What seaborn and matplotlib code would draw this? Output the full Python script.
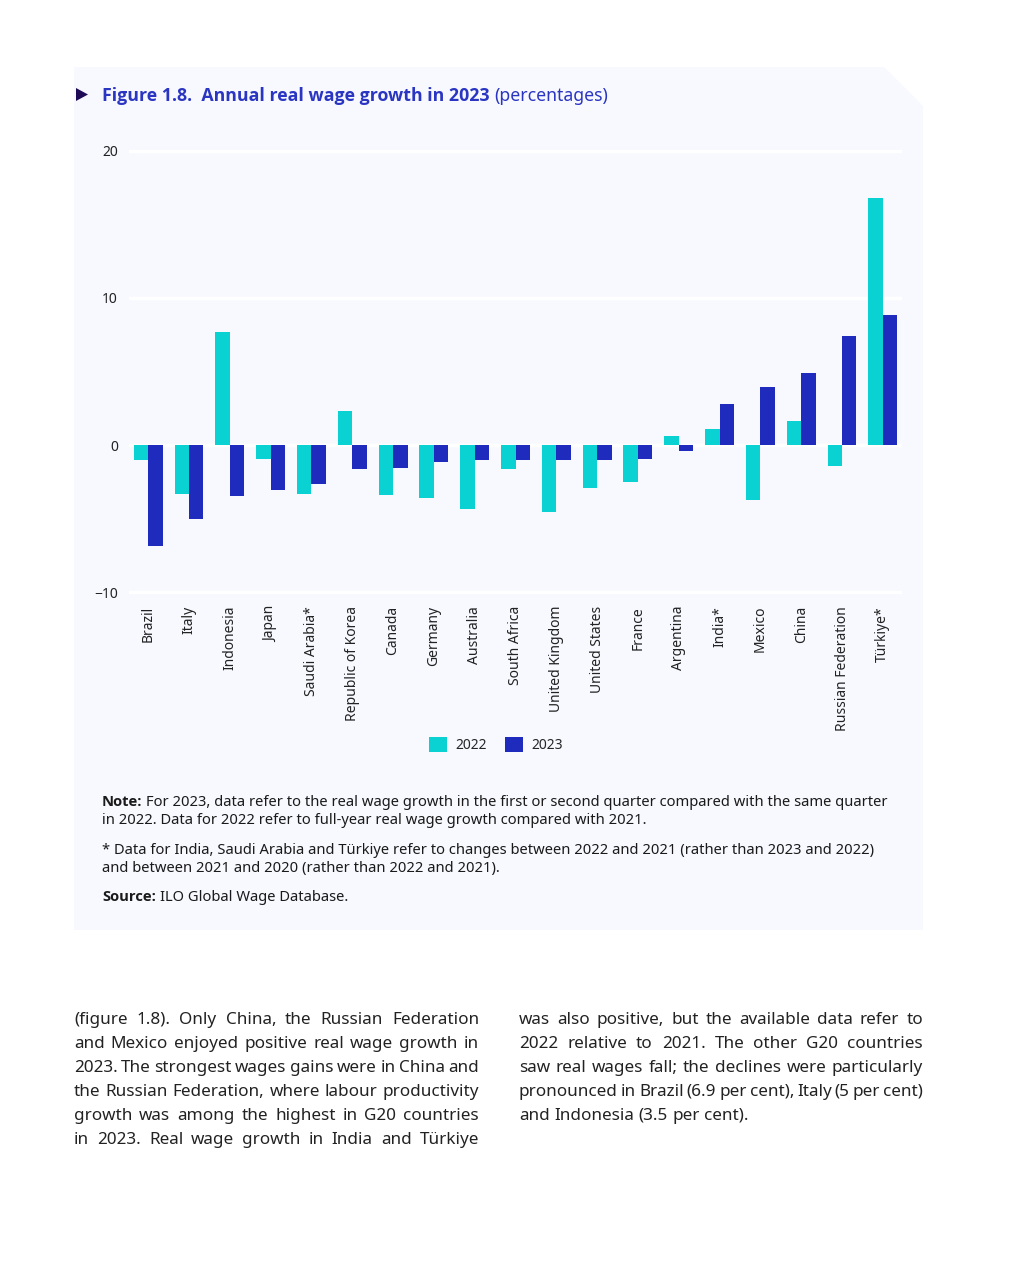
import matplotlib
matplotlib.use("Agg")
import matplotlib.pyplot as plt
from matplotlib.patches import Polygon, Patch
from matplotlib import font_manager as fm
import seaborn as sns
import pandas as pd

countries = ["Brazil", "Italy", "Indonesia", "Japan", "Saudi Arabia*", "Republic of Korea",
             "Canada", "Germany", "Australia", "South Africa", "United Kingdom",
             "United States", "France", "Argentina", "India*", "Mexico", "China",
             "Russian Federation", "Türkiye*"]
growth_2022 = [-1.0, -3.3, 7.7, -0.95, -3.3, 2.3, -3.4, -3.6, -4.35, -1.6, -4.55,
               -2.9, -2.5, 0.6, 1.1, -3.75, 1.65, -1.4, 16.8]
growth_2023 = [-6.9, -5.0, -3.5, -3.05, -2.65, -1.6, -1.55, -1.15, -1.0, -1.0, -1.0,
               -1.0, -0.95, -0.4, 2.8, 3.95, 4.9, 7.4, 8.85]
years = ["2022", "2023"]
yticks = [-10, 0, 10, 20]
colors = ["#0ad2d2", "#1e2bbd"]

title_bold = "Figure 1.8.  Annual real wage growth in 2023"
title_rest = "(percentages)"
note_lines = [
    [("Note:", "bold"), ("For 2023, data refer to the real wage growth in the first or second quarter compared with the same quarter", "normal")],
    [("in 2022. Data for 2022 refer to full-year real wage growth compared with 2021.", "normal")],
    [("* Data for India, Saudi Arabia and Türkiye refer to changes between 2022 and 2021 (rather than 2023 and 2022)", "normal")],
    [("and between 2021 and 2020 (rather than 2022 and 2021).", "normal")],
    [("Source:", "bold"), ("ILO Global Wage Database.", "normal")],
]
left_col = [
    "(figure 1.8). Only China, the Russian Federation",
    "and Mexico enjoyed positive real wage growth in",
    "2023. The strongest wages gains were in China and",
    "the Russian Federation, where labour productivity",
    "growth was among the highest in G20 countries",
    "in 2023. Real wage growth in India and Türkiye",
]
right_col = [
    "was also positive, but the available data refer to",
    "2022 relative to 2021. The other G20 countries",
    "saw real wages fall; the declines were particularly",
    "pronounced in Brazil (6.9 per cent), Italy (5 per cent)",
    "and Indonesia (3.5 per cent).",
]

n = min(len(countries), len(growth_2022), len(growth_2023))
df = pd.DataFrame({
    "country": countries[:n] * 2,
    "value": growth_2022[:n] + growth_2023[:n],
    "year": [years[0]] * n + [years[1]] * n,
})

sns.set_theme(style="white")

def has_bold(fam):
    try:
        p = fm.findfont(fm.FontProperties(family=fam, weight="bold"), fallback_to_default=False)
        f = fm.get_font(p)
        return fam.lower().replace(" ", "") in p.lower().replace(" ", "").replace("-", "").replace("_", "") and \
            ("bold" in p.lower() or "bold" in (f.style_name or "").lower())
    except Exception:
        return False

main_family = "Noto Sans"
bold_family = next((f for f in ["Noto Sans", "Open Sans", "Lato", "Roboto", "DejaVu Sans"] if has_bold(f)), "DejaVu Sans")
plt.rcParams["font.family"] = [main_family, "DejaVu Sans"]

W, H = 1018, 1277
fig = plt.figure(figsize=(W / 100, H / 100), dpi=100)
fig.patch.set_facecolor("white")

def fx(x):
    return x / W

def fy(y):
    return 1 - y / H

panel_bg = "#f7f9fe"
panel = Polygon([(fx(74), fy(67)), (fx(884), fy(67)), (fx(923), fy(106)),
                 (fx(923), fy(930)), (fx(74), fy(930))],
                closed=True, transform=fig.transFigure, facecolor=panel_bg,
                edgecolor="none", zorder=-5)
fig.patches.append(panel)
tri = Polygon([(fx(76), fy(88)), (fx(88), fy(94.5)), (fx(76), fy(101))], closed=True,
              transform=fig.transFigure, facecolor="#1f0a55", edgecolor="none", zorder=-4)
fig.patches.append(tri)

ax_l, ax_r = 129, 902
ax_top, ax_bot = 149.5, 593.5
ax = fig.add_axes([fx(ax_l), fy(ax_bot), (ax_r - ax_l) / W, (ax_bot - ax_top) / H])
ax.set_facecolor("none")
ax.set_zorder(2)

sns.barplot(data=df, x="country", y="value", hue="year", palette=colors, width=0.71,
            saturation=1, ax=ax, zorder=3, errorbar=None, linewidth=0, edgecolor="none")
ax.set_ylim(-10.1, 20.1)
ax.set_xlim(-0.47, n - 1 + 0.47)
ax.set_yticks(yticks)
ax.set_yticklabels(["\u221210" if v < 0 else str(v) for v in yticks])
for v in yticks:
    ax.axhline(v, color="white", lw=2.5, zorder=1)
ax.grid(False)
for s in ax.spines.values():
    s.set_visible(False)
ax.set_xlabel("")
ax.set_ylabel("")
ax.tick_params(axis="y", length=0, pad=8, labelsize=10, labelcolor="#222222")
ax.tick_params(axis="x", length=0, pad=9, labelsize=10, labelcolor="#222222")
plt.setp(ax.get_xticklabels(), rotation=90, ha="center", va="top")

if ax.legend_ is not None:
    ax.legend_.remove()
handles = [Patch(facecolor=c, edgecolor="none", label=y) for c, y in zip(colors, years)]
ax.legend(handles=handles, loc="center",
          bbox_to_anchor=((496 - ax_l) / (ax_r - ax_l), (ax_bot - 745) / (ax_bot - ax_top)),
          ncol=2, frameon=False, fontsize=10, handlelength=1.3, handleheight=1.3,
          handletextpad=0.6, columnspacing=1.3, borderpad=0)

renderer = fig.canvas.get_renderer()

def fam_for(weight):
    return [bold_family, "DejaVu Sans"] if weight == "bold" else [main_family, "DejaVu Sans"]

def measure(s, size):
    t = fig.text(0, 0, s, fontsize=size)
    w = t.get_window_extent(renderer).width
    t.remove()
    return w

def rich(x, y, parts, size, color, sep=True):
    cx = x
    space = measure("a a", size) - measure("aa", size)
    for i, (text, weight) in enumerate(parts):
        if i > 0 and sep:
            cx += space
        t = fig.text(fx(cx), fy(y), text, fontsize=size, fontweight=weight, color=color,
                     ha="left", va="baseline", family=fam_for(weight))
        cx += t.get_window_extent(renderer).width
    return cx

title_color = "#2a35c2"
rich(102, 101, [(title_bold, "bold"), (title_rest, "normal")], 12.75, title_color)

note_y = [806, 824, 854, 872, 901]
for parts, yy in zip(note_lines, note_y):
    rich(102, yy, parts, 10.6, "#1a1a1a")

def justify(x0, x1, y, line, size, color, just=True):
    words = line.split(" ")
    texts, widths = [], []
    for w in words:
        t = fig.text(0, fy(y), w, fontsize=size, color=color, ha="left", va="baseline")
        texts.append(t)
        widths.append(t.get_window_extent(renderer).width)
    if just and len(words) > 1:
        gap = (x1 - x0 - sum(widths)) / (len(words) - 1)
    else:
        gap = measure("a a", size) - measure("aa", size)
    cx = x0
    for t, w in zip(texts, widths):
        t.set_x(fx(cx))
        cx += w + gap

body_size = 12.3
body_color = "#222222"
for i, line in enumerate(left_col):
    justify(74, 479, 1024 + 24 * i, line, body_size, body_color, True)
for i, line in enumerate(right_col):
    justify(519, 923, 1024 + 24 * i, line, body_size, body_color, i < len(right_col) - 1)

fig.savefig("out.png", dpi=100, facecolor="white")
